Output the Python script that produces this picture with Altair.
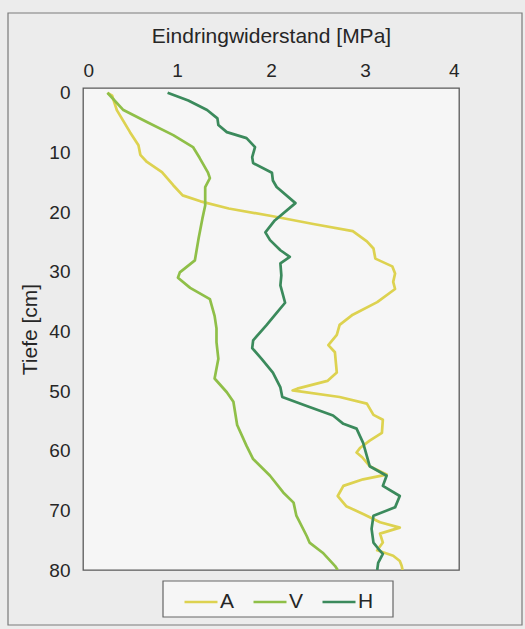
import altair as alt
import pandas as pd

# Penetration resistance profiles (MPa) over depth (cm) for three locations
depth_a = [0, 0.5, 2.9, 6.6, 8.8, 10.4, 11.6, 13.3, 15.5, 17.2, 18.2, 19.4, 20.7, 22.0,
           23.2, 24.9, 26.1, 27.8, 29.1, 30.3, 31.7, 32.9, 35.1, 37.2, 38.9, 40.6, 42.3,
           43.5, 46.9, 48.3, 49.6, 49.9, 51.0, 52.1, 54.0, 54.8, 57.0, 58.3, 59.5, 60.3,
           61.1, 62.6, 63.7, 64.0, 64.8, 65.9, 67.6, 69.3, 70.6, 72.0, 72.9, 73.9, 75.4,
           76.7, 77.6, 78.5, 79.3, 80]
res_a = [0.26, 0.31, 0.36, 0.50, 0.59, 0.61, 0.68, 0.84, 0.96, 1.06, 1.25, 1.55, 2.02,
         2.45, 2.87, 3.02, 3.09, 3.11, 3.29, 3.32, 3.30, 3.32, 3.13, 2.87, 2.73, 2.70,
         2.61, 2.68, 2.70, 2.60, 2.28, 2.23, 2.73, 3.02, 3.09, 3.19, 3.18, 3.05, 2.95,
         2.91, 2.97, 3.05, 3.19, 3.23, 2.98, 2.77, 2.71, 2.80, 2.98, 3.16, 3.37, 3.16,
         3.19, 3.13, 3.30, 3.37, 3.39, 3.40]

depth_v = [0, 2.9, 4.9, 7.1, 9.1, 10.9, 13.4, 14.3, 15.8, 18.9, 21.1, 24.4, 28.1, 30.1,
           31.0, 32.7, 34.6, 37.4, 39.5, 41.8, 44.6, 47.9, 50.2, 51.8, 55.7, 59.2, 61.4,
           64.2, 67.0, 68.7, 70.9, 74.3, 75.4, 77.1, 79.3, 80]
res_v = [0.26, 0.43, 0.68, 0.96, 1.17, 1.24, 1.33, 1.35, 1.30, 1.30, 1.27, 1.23, 1.19,
         1.03, 1.01, 1.14, 1.35, 1.40, 1.42, 1.42, 1.44, 1.40, 1.53, 1.60, 1.64, 1.74,
         1.81, 1.99, 2.13, 2.24, 2.27, 2.38, 2.41, 2.55, 2.68, 2.71]

depth_h = [0, 1.3, 2.9, 4.3, 5.4, 6.6, 7.6, 9.1, 10.8, 11.8, 13.4, 14.7, 15.8, 18.5, 21.4,
           23.4, 24.7, 26.4, 27.5, 28.6, 30.6, 32.3, 35.2, 36.9, 39.0, 41.5, 42.8, 44.6,
           46.9, 49.4, 51.0, 52.5, 54.1, 55.5, 56.3, 58.7, 62.6, 64.2, 65.9, 67.6, 69.5,
           70.9, 73.1, 75.4, 76.4, 77.3, 78.8, 80]
res_h = [0.90, 1.12, 1.32, 1.43, 1.44, 1.53, 1.74, 1.83, 1.80, 1.81, 2.01, 2.02, 2.06,
         2.26, 2.04, 1.94, 1.99, 2.10, 2.20, 2.10, 2.11, 2.10, 2.15, 2.06, 1.95, 1.81,
         1.80, 1.90, 2.02, 2.10, 2.12, 2.38, 2.66, 2.77, 2.91, 2.98, 3.05, 3.23, 3.19,
         3.37, 3.32, 3.09, 3.07, 3.09, 3.14, 3.19, 3.14, 3.13]

series_names = ["A", "V", "H"]
series_colors = ["#ddd250", "#8fbf48", "#3b8a5c"]

frames = []
for name, d, r in [("A", depth_a, res_a), ("V", depth_v, res_v), ("H", depth_h, res_h)]:
    frames.append(pd.DataFrame({"Tiefe": d, "Widerstand": r, "Serie": name,
                                "idx": range(len(d))}))
df = pd.concat(frames, ignore_index=True)

font = "Liberation Sans"
text_color = "#262626"

lines = alt.Chart(df).mark_line(strokeWidth=2.7, strokeJoin="round", clip=True).encode(
    x=alt.X("Widerstand:Q",
            scale=alt.Scale(domain=[0, 4], nice=False, zero=False),
            axis=alt.Axis(orient="top", values=[0, 1, 2, 3, 4], format="d",
                          title="Eindringwiderstand [MPa]", grid=False, ticks=False,
                          domain=False, labelPadding=8, titlePadding=15)),
    y=alt.Y("Tiefe:Q",
            scale=alt.Scale(domain=[-0.8, 80], reverse=True, nice=False, zero=False),
            axis=alt.Axis(values=list(range(0, 81, 10)), title="Tiefe [cm]", grid=False,
                          ticks=False, domain=False, labelPadding=13, titlePadding=8)),
    color=alt.Color("Serie:N",
                    scale=alt.Scale(domain=series_names, range=series_colors),
                    sort=series_names,
                    legend=alt.Legend(title=None, orient="none", direction="horizontal",
                                      legendX=100, legendY=496, symbolType="stroke",
                                      symbolSize=1089, symbolStrokeWidth=2.7,
                                      labelFontSize=21, labelFont=font,
                                      labelColor=text_color, columnPadding=13,
                                      labelOffset=1, padding=0)),
    order="idx:Q",
)

# outer figure frame
frame = alt.Chart(pd.DataFrame({"k": [0]})).mark_rect(
    fill=None, stroke="#7a7a7a", strokeWidth=1.2, clip=False
).encode(x=alt.value(-75), x2=alt.value(439), y=alt.value(-75), y2=alt.value(537))

# box around the legend
legend_box = alt.Chart(pd.DataFrame({"k": [0]})).mark_rect(
    fill="#f6f6f6", stroke="#666666", strokeWidth=1.2, clip=False
).encode(x=alt.value(80), x2=alt.value(310), y=alt.value(493), y2=alt.value(529))

chart = alt.layer(frame, legend_box, lines).properties(
    width=376, height=482,
    autosize=alt.AutoSizeParams(type="none"),
    padding={"left": 83, "top": 88, "right": 66, "bottom": 59},
    background="#ececec",
).configure_view(
    fill="#f6f6f6", stroke="#5a5a5a", strokeWidth=1.3
).configure_axis(
    labelFont=font, titleFont=font, labelFontSize=19, titleFontSize=21,
    labelColor=text_color, titleColor=text_color, titleFontWeight="normal"
)

chart.save("out.html", embed_options={"renderer": "svg", "actions": False})
